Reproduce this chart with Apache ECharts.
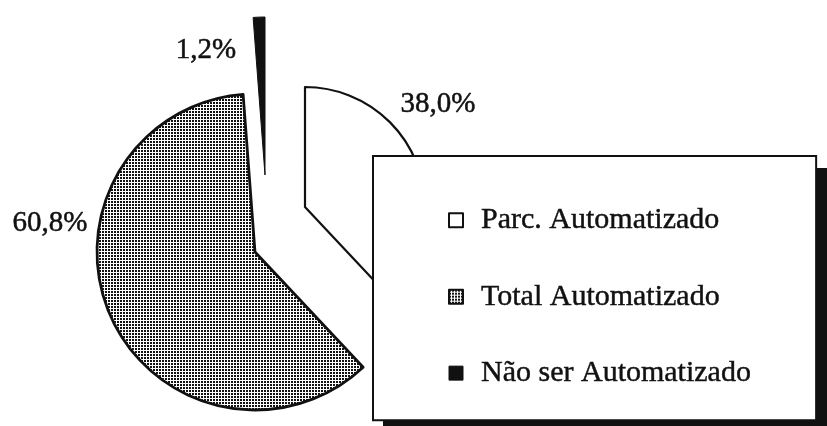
<!DOCTYPE html>
<html><head><meta charset="utf-8">
<script src="https://cdn.jsdelivr.net/npm/echarts@6/dist/echarts.min.js"></script>
<style>html,body{margin:0;padding:0;background:#fff}#c{width:827px;height:426px}</style>
</head><body><div id="c"></div>
<script>
// ---- data ----
const categories = ['Parc. Automatizado', 'Total Automatizado', 'Não ser Automatizado'];
const values = [38.0, 60.8, 1.2];

// ---- styles ----
function makePattern() {
  const c = document.createElement('canvas');
  c.width = 3; c.height = 3;
  const g = c.getContext('2d');
  g.fillStyle = '#fff'; g.fillRect(0, 0, 3, 3);
  g.fillStyle = '#111'; g.fillRect(0, 0, 2, 2);
  return c;
}
const pat = { image: makePattern(), repeat: 'repeat' };
const FONT = '"Liberation Serif", "Times New Roman", serif';

const sliceStyles = [
  { color: '#fff', borderColor: '#111', borderWidth: 2.2 },
  { color: pat, borderColor: '#111', borderWidth: 2.8 },
  { color: '#111', borderColor: '#111', borderWidth: 1 }
];
const legendIcons = [
  { color: '#fff', borderColor: '#111', borderWidth: 2 },
  { color: pat, borderColor: '#111', borderWidth: 2 },
  { color: '#111', borderColor: '#111', borderWidth: 1 }
];
// each slice is drawn exploded: own centre / radius / label spot
const layouts = [
  { center: [305, 207], radius: 120, label: [438, 104] },
  { center: [255, 252], radius: 158, label: [50, 223] },
  { center: [265, 175], radius: 158, label: [206, 50] }
];

const fmt = v => v.toFixed(1).replace('.', ',') + '%';

const series = layouts.map((L, k) => ({
  type: 'pie',
  center: L.center,
  radius: L.radius,
  startAngle: 90,
  clockwise: true,
  avoidLabelOverlap: false,
  silent: true,
  animation: false,
  emphasis: { disabled: true },
  labelLine: { show: false },
  labelLayout: () => ({ x: L.label[0], y: L.label[1], align: 'center', verticalAlign: 'middle' }),
  data: categories.map((n, i) => ({
    name: n,
    value: values[i],
    itemStyle: i === k ? sliceStyles[k] : { color: 'rgba(0,0,0,0)', borderWidth: 0 },
    label: {
      show: i === k,
      position: 'outside',
      formatter: p => fmt(p.value),
      fontFamily: FONT, fontSize: 29, color: '#111',
      textBorderColor: '#111', textBorderWidth: 0.5
    }
  }))
}));

const chart = echarts.init(document.getElementById('c'), null, { renderer: 'canvas' });
chart.setOption({
  backgroundColor: '#fff',
  animation: false,
  graphic: [{
    type: 'rect', z: 3, silent: true,
    shape: { x: 383, y: 168, width: 446, height: 270 },
    style: { fill: '#111' }
  }],
  legend: {
    orient: 'vertical',
    left: 373, top: 156,
    padding: [49, 65, 32, 75],
    itemWidth: 14, itemHeight: 14,
    itemGap: 46,
    icon: 'rect',
    selectedMode: false,
    z: 4,
    backgroundColor: '#fff',
    borderColor: '#111', borderWidth: 2,
    textStyle: { fontFamily: FONT, fontSize: 30, color: '#111', lineHeight: 30, padding: [0, 0, 0, 13],
      textBorderColor: '#111', textBorderWidth: 0.45 },
    data: categories.map((n, i) => ({ name: n, itemStyle: legendIcons[i] }))
  },
  series: series
});
</script></body></html>
